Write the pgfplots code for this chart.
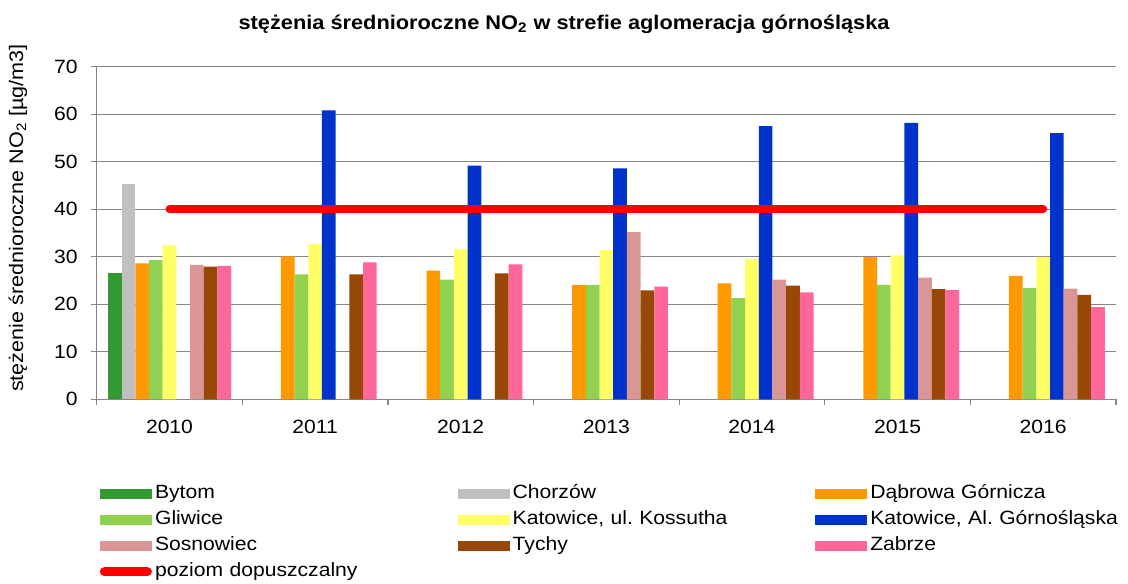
\documentclass[border=0pt]{standalone}
\usepackage{pgfplots}
\pgfplotsset{compat=1.18}
\usepackage{fontspec}
\setmainfont{Liberation Sans}[FakeStretch=1.1]
\definecolor{bytom}{HTML}{339933}
\definecolor{chorz}{HTML}{C0C0C0}
\definecolor{dabr}{HTML}{FF9900}
\definecolor{gliw}{HTML}{92D050}
\definecolor{koss}{HTML}{FFFF66}
\definecolor{katg}{HTML}{0033CC}
\definecolor{sosn}{HTML}{DA9694}
\definecolor{tych}{HTML}{974706}
\definecolor{zabr}{HTML}{FF6699}
\definecolor{gridc}{HTML}{868686}
\pgfplotsset{
  mybar/.style={ybar, bar width=0.094, draw=none, fill=#1,
    legend image code/.code={\fill[##1] (0pt,-2.65pt) rectangle (26pt,2.65pt);}},
  lineleg/.style={legend image code/.code={\path[draw=none, fill=none] (0pt,-2.65pt) rectangle (26pt,2.65pt); \draw[##1, fill=none, line width=4.5pt, line cap=round] (2.25pt,0pt) -- (23.75pt,0pt);}},
}
\begin{document}
\begin{tikzpicture}[font=\fontsize{9.6}{11}\selectfont]
\useasboundingbox (-48.35pt,-91.85pt) rectangle (515.65pt,199.65pt);
\begin{axis}[
  scale only axis, width=509.65pt, height=166.3pt,
  at={(0,0)}, anchor=south west,
  xmin=-0.5, xmax=6.5, ymin=0, ymax=70,
  ytick={0,10,...,70},
  xtick={0,...,6}, xticklabels={2010,2011,2012,2013,2014,2015,2016},
  minor xtick={-0.5,0.5,...,6.5},
  major x tick style={draw=none},
  tick align=outside, major tick length=3pt, minor tick length=3pt,
  tick style={gridc, line width=0.6pt},
  axis x line*=bottom, axis y line*=left,
  axis line style={gridc, line width=0.6pt, -},
  ymajorgrids, grid style={gridc, line width=0.6pt},
  /pgf/number format/assume math mode=true,
  xticklabel style={yshift=-4pt},
  yticklabel style={xshift=-3pt},
  title={stężenia średnioroczne NO\textsubscript{2} w strefie aglomeracja górnośląska},
  title style={at={(axis description cs:0.4585,1.0923)}, anchor=center, font=\fontsize{9.9}{11}\selectfont\bfseries},
  ylabel={stężenie średnioroczne NO\textsubscript{2} [µg/m3]},
  ylabel style={at={(axis description cs:-0.0772,0.545)}, anchor=center, font=\fontsize{9.8}{11}\selectfont},
  legend columns=3,
  legend cell align=left,
  legend style={draw=none, fill=none, inner sep=0pt,
    at={(axis description cs:0.00275,-0.2577)}, anchor=north west,
    row sep=4.5pt,
    /tikz/every odd column/.style={column sep=1.6pt},
    /tikz/every even column/.style={column sep=3.2pt},
    nodes={inner sep=0pt, text width=148pt, text height=6.5pt, text depth=2pt, align=left}},
]
\addplot[mybar=bytom, bar shift=-0.376] coordinates {(0,26.6)};
\addlegendentry{Bytom}
\addplot[mybar=chorz, bar shift=-0.282] coordinates {(0,45.3)};
\addlegendentry{Chorzów}
\addplot[mybar=dabr, bar shift=-0.188] coordinates {(0,28.6) (1,30.1) (2,27.1) (3,24.1) (4,24.4) (5,29.9) (6,26.0)};
\addlegendentry{Dąbrowa Górnicza}
\addplot[mybar=gliw, bar shift=-0.094] coordinates {(0,29.3) (1,26.3) (2,25.2) (3,24.1) (4,21.3) (5,24.1) (6,23.4)};
\addlegendentry{Gliwice}
\addplot[mybar=koss, bar shift=0] coordinates {(0,32.4) (1,32.7) (2,31.6) (3,31.4) (4,29.5) (5,30.3) (6,30.0)};
\addlegendentry{Katowice, ul.\ Kossutha}
\addplot[mybar=katg, bar shift=0.094] coordinates {(1,60.8) (2,49.2) (3,48.6) (4,57.5) (5,58.2) (6,56.0)};
\addlegendentry{Katowice, Al.\ Górnośląska}
\addplot[mybar=sosn, bar shift=0.188] coordinates {(0,28.3) (3,35.2) (4,25.2) (5,25.6) (6,23.3)};
\addlegendentry{Sosnowiec}
\addplot[mybar=tych, bar shift=0.282] coordinates {(0,27.9) (1,26.3) (2,26.5) (3,22.9) (4,23.9) (5,23.2) (6,22.0)};
\addlegendentry{Tychy}
\addplot[mybar=zabr, bar shift=0.376] coordinates {(0,28.1) (1,28.8) (2,28.4) (3,23.7) (4,22.5) (5,23.0) (6,19.4)};
\addlegendentry{Zabrze}
\addplot[red, line width=4pt, line cap=round, mark=none, lineleg]
  coordinates {(0,40) (6,40)};
\addlegendentry{poziom dopuszczalny}
\end{axis}
\end{tikzpicture}
\end{document}
